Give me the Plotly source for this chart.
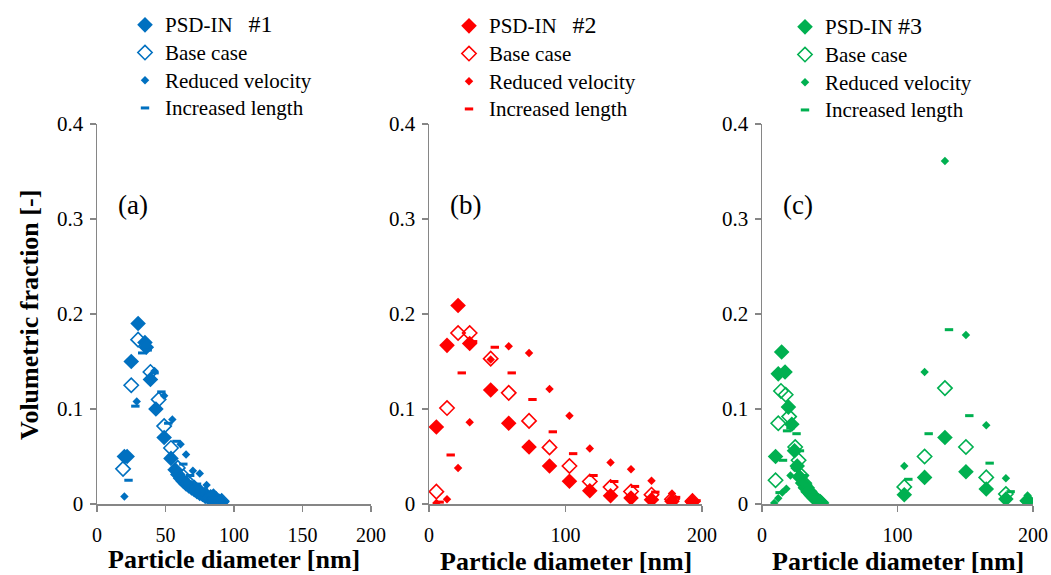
import plotly.graph_objects as go

# ---------------- data ----------------
# Panel (a) PSD-IN #1
psd1_d = [20, 22, 25, 30, 35, 36, 39, 43, 49, 54, 57, 59, 61, 63, 65, 67, 69, 71, 73, 75, 77, 79, 81, 83, 85, 87, 89, 91]
psd1_v = [0.050, 0.050, 0.150, 0.190, 0.170, 0.165, 0.131, 0.100, 0.070, 0.048, 0.036, 0.031, 0.027, 0.024, 0.021, 0.019,
          0.017, 0.015, 0.013, 0.011, 0.010, 0.008, 0.007, 0.006, 0.005, 0.004, 0.003, 0.002]
base1_d = [19, 25, 30, 39, 45, 49, 54, 59, 63, 67, 71, 75, 79, 83, 87, 91]
base1_v = [0.037, 0.125, 0.173, 0.139, 0.110, 0.082, 0.059, 0.038, 0.029, 0.022, 0.017, 0.013, 0.010, 0.007, 0.005, 0.003]
red1_d = [20, 29, 35, 42, 49, 55, 61, 65, 70, 75, 80, 85, 90]
red1_v = [0.008, 0.108, 0.165, 0.140, 0.114, 0.089, 0.063, 0.052, 0.035, 0.032, 0.020, 0.012, 0.005]
inc1_d = [23, 28, 33, 37, 42, 47, 52, 58, 63, 68, 73, 78, 83, 88, 92]
inc1_v = [0.025, 0.103, 0.159, 0.162, 0.138, 0.118, 0.085, 0.066, 0.042, 0.030, 0.021, 0.015, 0.010, 0.006, 0.003]

# Panel (b) PSD-IN #2
psd2_d = [5.4, 13.2, 21.3, 29.8, 45.2, 58.4, 73.3, 88.3, 102.9, 117.8, 133, 148, 163, 178, 193]
psd2_v = [0.081, 0.167, 0.209, 0.169, 0.120, 0.085, 0.060, 0.040, 0.024, 0.014, 0.0087, 0.0063, 0.0045, 0.0028, 0.002]
base2_d = [5.4, 13.2, 21.3, 29.8, 45.2, 58.4, 73.3, 88.3, 102.9, 117.8, 133, 148, 163, 178, 193]
base2_v = [0.013, 0.101, 0.180, 0.180, 0.153, 0.117, 0.0875, 0.0596, 0.040, 0.0237, 0.0178, 0.0132, 0.0098, 0.005, 0.003]
red2_d = [5.4, 13.2, 21.3, 29.8, 45.2, 58.4, 73.3, 88.3, 102.9, 117.8, 133, 148, 163, 178, 193]
red2_v = [0.001, 0.005, 0.038, 0.086, 0.152, 0.166, 0.159, 0.121, 0.093, 0.0585, 0.0436, 0.0366, 0.0244, 0.011, 0.0045]
inc2_d = [7.8, 15.9, 24, 32.3, 48.2, 60.6, 75.8, 90.7, 105.6, 120.5, 135.7, 150.9, 165.8, 181, 196]
inc2_v = [0.002, 0.0516, 0.138, 0.171, 0.165, 0.138, 0.110, 0.076, 0.053, 0.030, 0.0237, 0.0185, 0.0125, 0.007, 0.0035]

# Panel (c) PSD-IN #3
psd3_d = [10, 12, 14.5, 17, 19.5, 22, 24, 26, 28, 30, 32, 34, 36, 38, 40, 42, 44,
          105, 120, 135, 150.5, 165.5, 180, 196]
psd3_v = [0.050, 0.137, 0.160, 0.139, 0.102, 0.084, 0.056, 0.040, 0.028, 0.022, 0.017, 0.013, 0.010, 0.007, 0.005, 0.003, 0.001,
          0.0098, 0.028, 0.070, 0.034, 0.0158, 0.0053, 0.0035]
base3_d = [10, 12, 14, 17.5, 20, 24.5, 27, 29, 31, 33, 35, 37, 39, 41, 43,
           105, 120, 135, 150.5, 165.5, 180, 196]
base3_v = [0.025, 0.085, 0.119, 0.115, 0.092, 0.060, 0.046, 0.030, 0.022, 0.017, 0.013, 0.009, 0.006, 0.004, 0.002,
           0.018, 0.050, 0.122, 0.060, 0.028, 0.0105, 0.0035]
red3_d = [9, 12, 15, 18, 21, 24, 27, 30, 33, 36, 39, 42,
          105, 120, 135, 150.5, 165.5, 180, 196]
red3_v = [0.001, 0.006, 0.012, 0.016, 0.030, 0.038, 0.030, 0.022, 0.015, 0.010, 0.006, 0.003,
          0.040, 0.139, 0.361, 0.178, 0.083, 0.027, 0.009]
inc3_d = [13, 15.5, 18.5, 21, 25.5, 28, 31, 34, 37, 40, 43,
          108, 123, 138, 153, 168, 183.5, 198]
inc3_v = [0.012, 0.046, 0.077, 0.080, 0.074, 0.056, 0.030, 0.020, 0.013, 0.007, 0.003,
          0.026, 0.074, 0.1835, 0.093, 0.043, 0.013, 0.0046]

series_names = ["PSD-IN", "Base case", "Reduced velocity", "Increased length"]
panel_labels = ["(a)", "(b)", "(c)"]
panel_ids = ["#1", "#2", "#3"]
y_ticks = [0, 0.1, 0.2, 0.3, 0.4]
y_ticktext = ["0", "0.1", "0.2", "0.3", "0.4"]
x_ticks_a = [0, 50, 100, 150, 200]
x_ticks_bc = [0, 100, 200]
x_title = "Particle diameter [nm]"
y_title = "Volumetric fraction [-]"

colors = ["#0070C0", "#FF0000", "#00B050"]

panels = [
    (psd1_d, psd1_v, base1_d, base1_v, red1_d, red1_v, inc1_d, inc1_v),
    (psd2_d, psd2_v, base2_d, base2_v, red2_d, red2_v, inc2_d, inc2_v),
    (psd3_d, psd3_v, base3_d, base3_v, red3_d, red3_v, inc3_d, inc3_v),
]

SERIF = "Liberation Serif"
W, H = 1051, 575

# pixel layout
x_px = [(97, 371), (429, 702), (762, 1033)]
y_top_px, y_bot_px = 124, 504
legend_px = [(125, 6), (449, 7), (785, 8)]
xtitle_px = [(234, 559), (566, 561), (898, 561)]
id_gap = ["&nbsp;&nbsp;&nbsp;", "&nbsp;&nbsp;&nbsp;", " "]


def lg_text(t):
    return '<span style="font-size:21px">' + t + "</span>"


fig = go.Figure()

for i, (pd_, pv, bd, bv, rd, rv, idd, iv) in enumerate(panels):
    c = colors[i]
    sfx = "" if i == 0 else str(i + 1)
    xa, ya = "x" + sfx, "y" + sfx
    lg = "legend" + sfx
    psd_name = lg_text(series_names[0] + id_gap[i]) + '<span style="font-size:24px">' + panel_ids[i] + "</span>"
    fig.add_trace(go.Scatter(x=pd_, y=pv, mode="markers", name=psd_name, xaxis=xa, yaxis=ya, legend=lg,
                             marker=dict(symbol="diamond", size=12, color=c, line=dict(width=0))))
    fig.add_trace(go.Scatter(x=bd, y=bv, mode="markers", name=lg_text(series_names[1]), xaxis=xa, yaxis=ya, legend=lg,
                             marker=dict(symbol="diamond-open", size=11, color=c, line=dict(width=1.6, color=c))))
    fig.add_trace(go.Scatter(x=rd, y=rv, mode="markers", name=lg_text(series_names[2]), xaxis=xa, yaxis=ya, legend=lg,
                             marker=dict(symbol="diamond", size=6.5, color=c, line=dict(width=0))))
    fig.add_trace(go.Scatter(x=idd, y=iv, mode="markers", name=lg_text(series_names[3]), xaxis=xa, yaxis=ya, legend=lg,
                             marker=dict(symbol="line-ew", size=6, color=c, line=dict(width=3, color=c))))

axis_color = "#868686"
ytickfont = dict(family=SERIF, size=21, color="black")
xtickfont = dict(family=SERIF, size=20, color="black")
ydom = [(H - y_bot_px) / H, (H - y_top_px) / H]

layout = dict(
    width=W, height=H,
    margin=dict(l=0, r=0, t=0, b=0, autoexpand=False),
    paper_bgcolor="white", plot_bgcolor="white",
    font=dict(family=SERIF, size=20, color="black"),
    hovermode=False,
)
for i in range(3):
    sfx = "" if i == 0 else str(i + 1)
    x0, x1 = x_px[i]
    layout["xaxis" + sfx] = dict(
        domain=[x0 / W, x1 / W], range=[0, 200], anchor="y" + sfx,
        tickvals=x_ticks_a if i == 0 else x_ticks_bc,
        showgrid=False, zeroline=False, showline=True, linecolor=axis_color, linewidth=1.5,
        ticks="outside", ticklen=6, tickwidth=1.5, tickcolor=axis_color,
        tickfont=xtickfont, ticklabelstandoff=6, automargin=False,
    )
    layout["yaxis" + sfx] = dict(
        domain=ydom, range=[0, 0.4], anchor="x" + sfx,
        tickvals=y_ticks, ticktext=y_ticktext,
        showgrid=False, zeroline=False, showline=True, linecolor=axis_color, linewidth=1.5,
        ticks="outside", ticklen=6, tickwidth=1.5, tickcolor=axis_color,
        tickfont=ytickfont, ticklabelstandoff=2, automargin=False,
    )
    lx, ly = legend_px[i]
    layout["legend" + sfx] = dict(
        x=lx / W, y=1 - ly / H, xanchor="left", yanchor="top",
        font=dict(family=SERIF, size=19, color="black"),
        bgcolor="rgba(0,0,0,0)", borderwidth=0, tracegroupgap=0,
        itemsizing="trace", traceorder="normal",
    )

fig.update_layout(**layout)

annotations = []
for i in range(3):
    x0, x1 = x_px[i]
    annotations.append(dict(text=panel_labels[i], x=(x0 + 36) / W, y=1 - 205 / H, xref="paper", yref="paper",
                            xanchor="center", yanchor="middle", showarrow=False,
                            font=dict(family=SERIF, size=27, color="black")))
    tx, ty = xtitle_px[i]
    annotations.append(dict(text="<b>" + x_title + "</b>", x=tx / W, y=1 - ty / H, xref="paper", yref="paper",
                            xanchor="center", yanchor="middle", showarrow=False,
                            font=dict(family=SERIF, size=26, color="black")))
annotations.append(dict(text="<b>" + y_title + "</b>", x=30 / W, y=1 - 315 / H, xref="paper", yref="paper",
                        xanchor="center", yanchor="middle", showarrow=False, textangle=-90,
                        font=dict(family=SERIF, size=26, color="black")))
fig.update_layout(annotations=annotations)

fig.write_html("out.html", config={"displayModeBar": False, "staticPlot": True},
               post_script="document.body.style.margin='0px';document.body.style.padding='0px';")
